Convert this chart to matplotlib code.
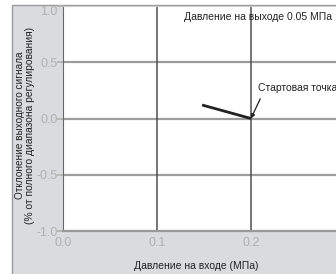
import matplotlib
matplotlib.use("Agg")
import matplotlib.pyplot as plt
from matplotlib.patches import Rectangle

plt.rcParams["font.family"] = ["Liberation Sans", "DejaVu Sans"]

# data
inlet_mpa = [0.148, 0.200]
deviation_pct = [0.12, 0.0]
start_point = (0.200, 0.0)
x_ticks = [0.0, 0.1, 0.2, 0.3]
y_ticks = [-1.0, -0.5, 0.0, 0.5, 1.0]

fig = plt.figure(figsize=(3.36, 2.74), dpi=100, facecolor="white")
fig.patches.append(Rectangle((12 / 336, -0.1), 1, 1.1 - 5 / 274, transform=fig.transFigure,
                             facecolor="#d9dbde", edgecolor="#9a9a9a", lw=1.0, zorder=-5))

ax = fig.add_axes([63 / 336, 43 / 274, 282 / 336, 225 / 274], zorder=2)
ax.set_facecolor("white")
ax.set_xlim(0.0, 0.3)
ax.set_ylim(-1.0, 1.0)
ax.set_xticks(x_ticks)
ax.set_yticks(y_ticks)
ax.set_xticklabels([f"{v:.1f}" for v in x_ticks])
ax.set_yticklabels([f"{v:.1f}" for v in y_ticks])
ax.tick_params(axis="both", colors="#b0b0b0", labelsize=9, length=4, width=1.2)
ax.tick_params(axis="x", length=0, pad=4)
ax.tick_params(axis="y", pad=0)
ax.get_yticklabels()[-1].set_va("top")

for v in y_ticks[1:-1]:
    ax.axhline(v, color="#9c9c9c", lw=1.6, zorder=1)
for v in x_ticks[1:-1]:
    ax.axvline(v, color="#505050", lw=1.1, zorder=1)

ax.spines["left"].set_color("#666666")
ax.spines["bottom"].set_color("#999999")
ax.spines["bottom"].set_linewidth(1.6)
ax.spines["top"].set_color("#cccccc")
ax.spines["right"].set_visible(False)

ax.plot(inlet_mpa, deviation_pct, color="#222222", lw=2.0, zorder=3, solid_capstyle="butt")

ax.text(0.691, 0.95, "Давление на выходе 0.05 МПа", transform=ax.transAxes,
        fontsize=7.5, color="#222222", ha="center", va="center")
ax.annotate("Стартовая точка", xy=start_point, xytext=(0.2074, 0.267),
            fontsize=7.5, color="#222222", ha="left", va="center",
            arrowprops=dict(arrowstyle="-|>", color="#222222", lw=0.9,
                            mutation_scale=6, shrinkA=2, shrinkB=0,
                            relpos=(0.06, 0.0)))

fig.text(196 / 336, 1 - 266 / 274, "Давление на входе (МПа)", fontsize=7.5,
         color="#222222", ha="center", va="center")
fig.text(20 / 336, 1 - 125 / 274, "Отклонение выходного сигнала",
         fontsize=7.2, color="#222222", ha="center", va="center", rotation=90)
fig.text(30 / 336, 1 - 125 / 274, "(% от полного диапазона регулирования)",
         fontsize=7.4, color="#222222", ha="center", va="center", rotation=90)

fig.savefig("out.png", dpi=100, facecolor=fig.get_facecolor())
